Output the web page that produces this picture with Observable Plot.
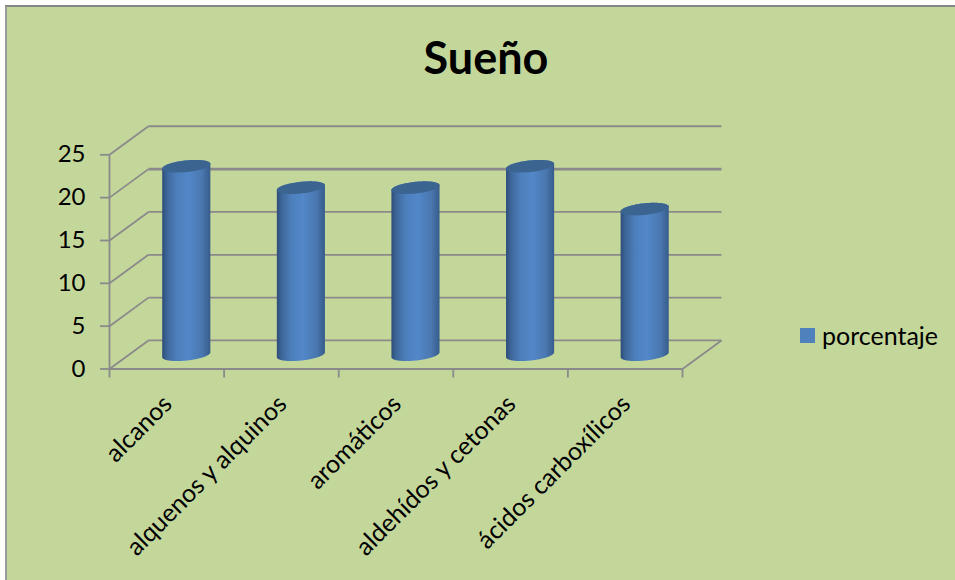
<!DOCTYPE html>
<html lang="es">
<head>
<meta charset="utf-8">
<script src="https://cdn.jsdelivr.net/npm/d3@7"></script>
<script src="https://cdn.jsdelivr.net/npm/@observablehq/plot@0.6"></script>
<style>
  html, body { margin: 0; background: #fff; }
  #panel {
    position: absolute; left: 5px; top: 5px; width: 950px; height: 575px;
    box-sizing: border-box; background: #c4d79b;
    border-left: 2px solid #9a9a9a; border-top: 2px solid #868686;
  }
  #chart { position: absolute; left: 0; top: 0; }
  #chart svg { background: transparent; display: block; }
  h1 {
    position: absolute; left: 286px; width: 400px; top: 30px; margin: 0; text-align: center;
    font: 700 45px Lato, sans-serif; color: #000;
  }
  #legend {
    position: absolute; left: 800px; top: 320px; height: 30px; display: flex; align-items: center;
    font: 25px Lato, sans-serif; color: #000;
  }
  #legend i { width: 15px; height: 15px; background: #4f81bd; margin-right: 7px; margin-top: 1px; }
</style>
</head>
<body>
<div id="panel"></div>
<div id="chart"></div>
<h1>Sueño</h1>
<div id="legend"><i></i><span>porcentaje</span></div>
<script>
const categories = ["alcanos", "alquenos y alquinos", "aromáticos", "aldehídos y cetonas", "ácidos carboxílicos"];
const porcentaje = [22, 19.5, 19.5, 22, 17];
const valueTicks = [0, 5, 10, 15, 20, 25];
const slotEdges = [0, 1, 2, 3, 4, 5];

// Oblique projection of the 3D box, expressed in data units.
const depthX = 0.34;
const depthY = 3.33;
// Cylinder cross-section: half width, half height and tilt of its ellipse.
const radiusX = 0.21;
const radiusY = 0.68;
const tiltY = 0.28;

const axisColor = "#8a8a8a";
const lineWidth = 1.8;
const project = (x, y, depth) => ({x: x + depthX * depth, y: y + depthY * depth});

const backWall = valueTicks.map((v) => ({x1: depthX, x2: 5 + depthX, y1: v + depthY, y2: v + depthY, v}));
const sideWall = valueTicks.map((v) => ({x1: 0, x2: depthX, y1: v, y2: v + depthY}));
const floorEdge = [{x1: 5, x2: 5 + depthX, y1: 0, y2: depthY}];

// Ellipse point at angle t around a bar's axis, at value v.
const ring = (i, v, t) => {
  const c = project(i + 0.5, v, 0.5);
  return {
    bar: i,
    x: c.x + radiusX * Math.cos(t),
    y: c.y + radiusY * Math.sin(t) + tiltY * Math.cos(t)
  };
};
const angles = d3.range(0, 49).map((k) => (k / 48) * Math.PI);

const bodies = porcentaje.flatMap((v, i) => [
  ...angles.map((t) => ring(i, 0, -t)),
  ...angles.map((t) => ring(i, v, Math.PI - t))
]);
const tops = porcentaje.flatMap((v, i) => [
  ...angles.map((t) => ring(i, v, t)),
  ...angles.map((t) => ring(i, v, t + Math.PI))
]);

const chart = Plot.plot({
  width: 955,
  height: 580,
  marginLeft: 109,
  marginRight: 273,
  marginTop: 154.3,
  marginBottom: 211.5,
  x: {type: "linear", domain: [0, 5], axis: null},
  y: {type: "linear", domain: [0, 25], axis: null},
  style: {background: "transparent", fontFamily: "Lato, sans-serif"},
  marks: [
    Plot.link(backWall, {
      x1: "x1", x2: "x2", y1: "y1", y2: "y2", stroke: axisColor,
      strokeWidth: (d) => (d.v === 20 ? 2.6 : lineWidth)
    }),
    Plot.link(sideWall, {x1: "x1", x2: "x2", y1: "y1", y2: "y2", stroke: axisColor, strokeWidth: lineWidth}),
    Plot.link(floorEdge, {x1: "x1", x2: "x2", y1: "y1", y2: "y2", stroke: axisColor, strokeWidth: lineWidth}),
    Plot.ruleX([0], {y1: 0, y2: 25, stroke: axisColor, strokeWidth: lineWidth}),
    Plot.ruleY([0], {x1: 0, x2: 5, stroke: axisColor, strokeWidth: lineWidth}),
    Plot.axisY({
      ticks: valueTicks, anchor: "left", tickSize: 9, stroke: axisColor, strokeWidth: lineWidth,
      tickPadding: 15, fontSize: 24, fill: "#000", label: null
    }),
    Plot.axisX({
      ticks: slotEdges, anchor: "bottom", tickSize: 9, stroke: axisColor, strokeWidth: lineWidth,
      tickFormat: () => "", label: null
    }),
    Plot.text(categories, {
      x: (d, i) => i + 0.5, y: () => 0, text: (d) => d, rotate: -45, textAnchor: "end",
      fontSize: 25, fill: "#000", dx: 1, dy: 31
    }),
    Plot.line(bodies, {x: "x", y: "y", z: "bar", curve: "linear-closed", fill: "url(#cylinder)", stroke: "none"}),
    Plot.line(tops, {x: "x", y: "y", z: "bar", curve: "linear-closed", fill: "#3c6491", stroke: "none"})
  ]
});

// Horizontal shading that gives the columns their rounded look.
const gradient = d3.select(chart).append("defs").append("linearGradient").attr("id", "cylinder");
[[0, "#2e4d78"], [0.1, "#3d6699"], [0.3, "#4d7fbc"], [0.55, "#5287c8"], [0.82, "#4a78b0"], [1, "#375c8c"]]
  .forEach(([offset, color]) => gradient.append("stop").attr("offset", offset).attr("stop-color", color));

document.getElementById("chart").append(chart);
</script>
</body>
</html>
